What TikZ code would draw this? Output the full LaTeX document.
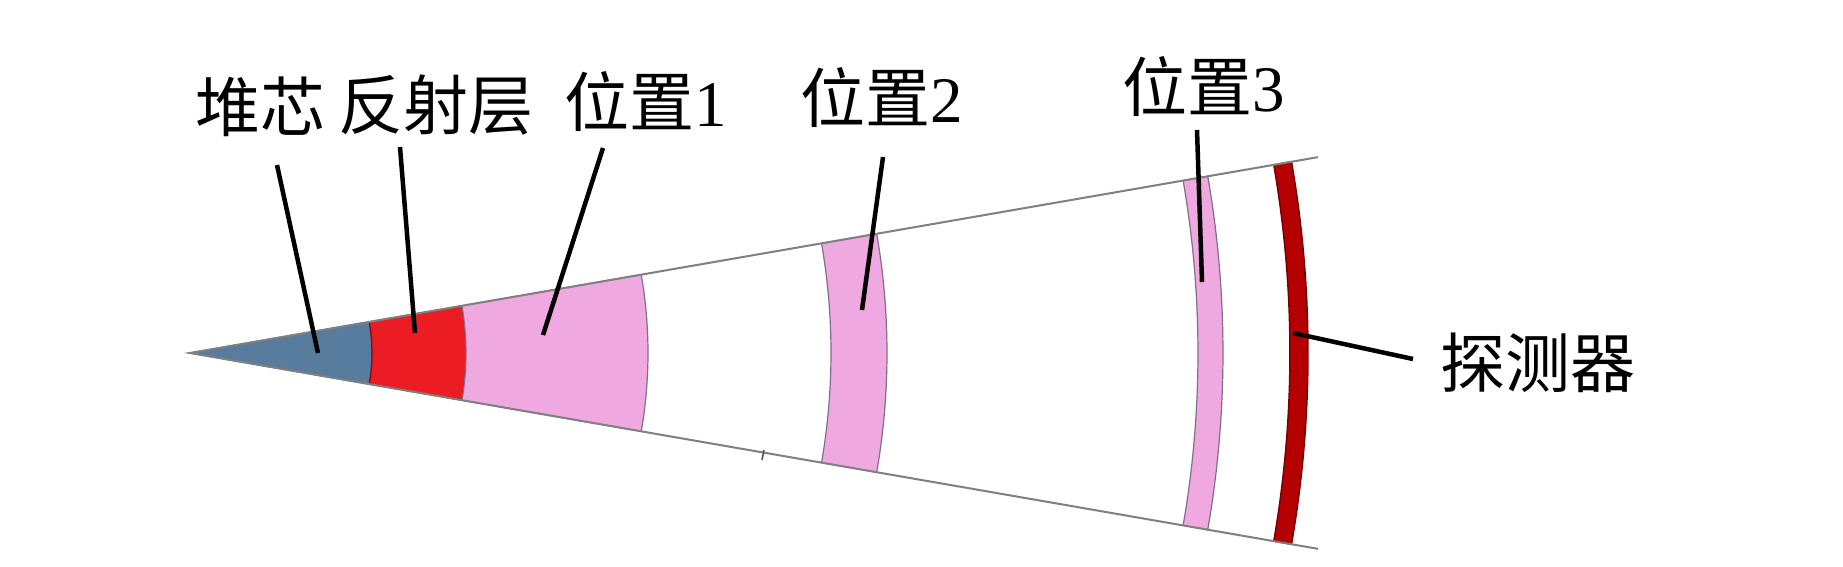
\documentclass[tikz,border=0pt]{standalone}
\usepackage{fontspec}
\usetikzlibrary{calc}
\setmainfont{Liberation Serif}
\newfontfamily\cjk{Noto Sans CJK SC}
\definecolor{corecol}{RGB}{88,124,158}
\definecolor{corebd}{RGB}{40,60,100}
\definecolor{reflcol}{RGB}{236,28,36}
\definecolor{reflbd}{RGB}{130,10,20}
\definecolor{pinkcol}{RGB}{240,168,224}
\definecolor{pinkbd}{RGB}{130,110,140}
\definecolor{detcol}{RGB}{180,0,0}
\definecolor{detbd}{RGB}{120,0,0}
\definecolor{wedgegray}{RGB}{128,128,128}
\newcommand{\wa}{9.85}
\newcommand{\ringsec}[3]{%
  \filldraw[#1,shift={(190,214)}] (-\wa:#2) arc[start angle=-\wa,end angle=\wa,radius=#2]
    -- (\wa:#3) arc[start angle=\wa,end angle=-\wa,radius=#3] -- cycle;}
\tikzset{
  labeltext/.style={font=\fontsize{65}{70}\selectfont, inner sep=0pt, anchor=center},
  leader/.style={draw=black, line width=4.5pt},
  wedgeline/.style={draw=wedgegray, line width=2pt},
  pinkband/.style={fill=pinkcol, draw=pinkbd, line width=1.2pt},
}
\begin{document}
\begin{tikzpicture}[x=1pt,y=1pt]
\useasboundingbox (0,0) rectangle (1843,567);
\fill[white] (0,0) rectangle (1843,567);
\coordinate (O) at (190,214);
% core
\filldraw[fill=corecol, draw=corebd, line width=1.2pt, shift={(190,214)}]
  (0,0) -- (-\wa:182) arc[start angle=-\wa,end angle=\wa,radius=182] -- cycle;
% reflector
\ringsec{fill=reflcol, draw=reflbd, line width=1.2pt}{182}{276}
% position 1
\ringsec{pinkband}{276}{458}
% position 2
\ringsec{pinkband}{641}{697}
% position 3
\ringsec{pinkband}{1008}{1033}
% detector
\ringsec{fill=detcol, draw=detbd, line width=1.5pt}{1100}{1118}
% wedge edges
\coordinate (U) at ($(O)+(\wa:1145)$);
\coordinate (L) at ($(O)+(-\wa:1145)$);
\draw[wedgeline] (U) -- (O) -- (L);
% small tick on the lower edge
\coordinate (t1) at (762,107);
\coordinate (t2) at (764,117);
\draw[draw=wedgegray!60!black, line width=1.5pt] (t1) -- (t2);
% labels
\node[labeltext] (core) at (260,460) {\cjk 堆芯};
\node[labeltext] (refl) at (436,462) {\cjk 反射层};
\node[labeltext] (p1) at (646,465) {{\cjk 位置}1};
\node[labeltext] (p2) at (882,469) {{\cjk 位置}2};
\node[labeltext] (p3) at (1204,480) {{\cjk 位置}3};
\node[labeltext] (det) at (1538,204) {\cjk 探测器};
% leader coordinates
\coordinate (coreA) at (277,402);
\coordinate (coreB) at (318,214);
\coordinate (reflA) at (400,420);
\coordinate (reflB) at (415,234);
\coordinate (p1A) at (603,419);
\coordinate (p1B) at (543,232);
\coordinate (p2A) at (883,410);
\coordinate (p2B) at (862,257);
\coordinate (p3A) at (1197,437);
\coordinate (p3B) at (1202,285);
\coordinate (detA) at (1413,208);
\coordinate (detB) at (1293,234);
\draw[leader] (coreA) -- (coreB);
\draw[leader] (reflA) -- (reflB);
\draw[leader] (p1A) -- (p1B);
\draw[leader] (p2A) -- (p2B);
\draw[leader] (p3A) -- (p3B);
\draw[leader] (detA) -- (detB);
\end{tikzpicture}
\end{document}
